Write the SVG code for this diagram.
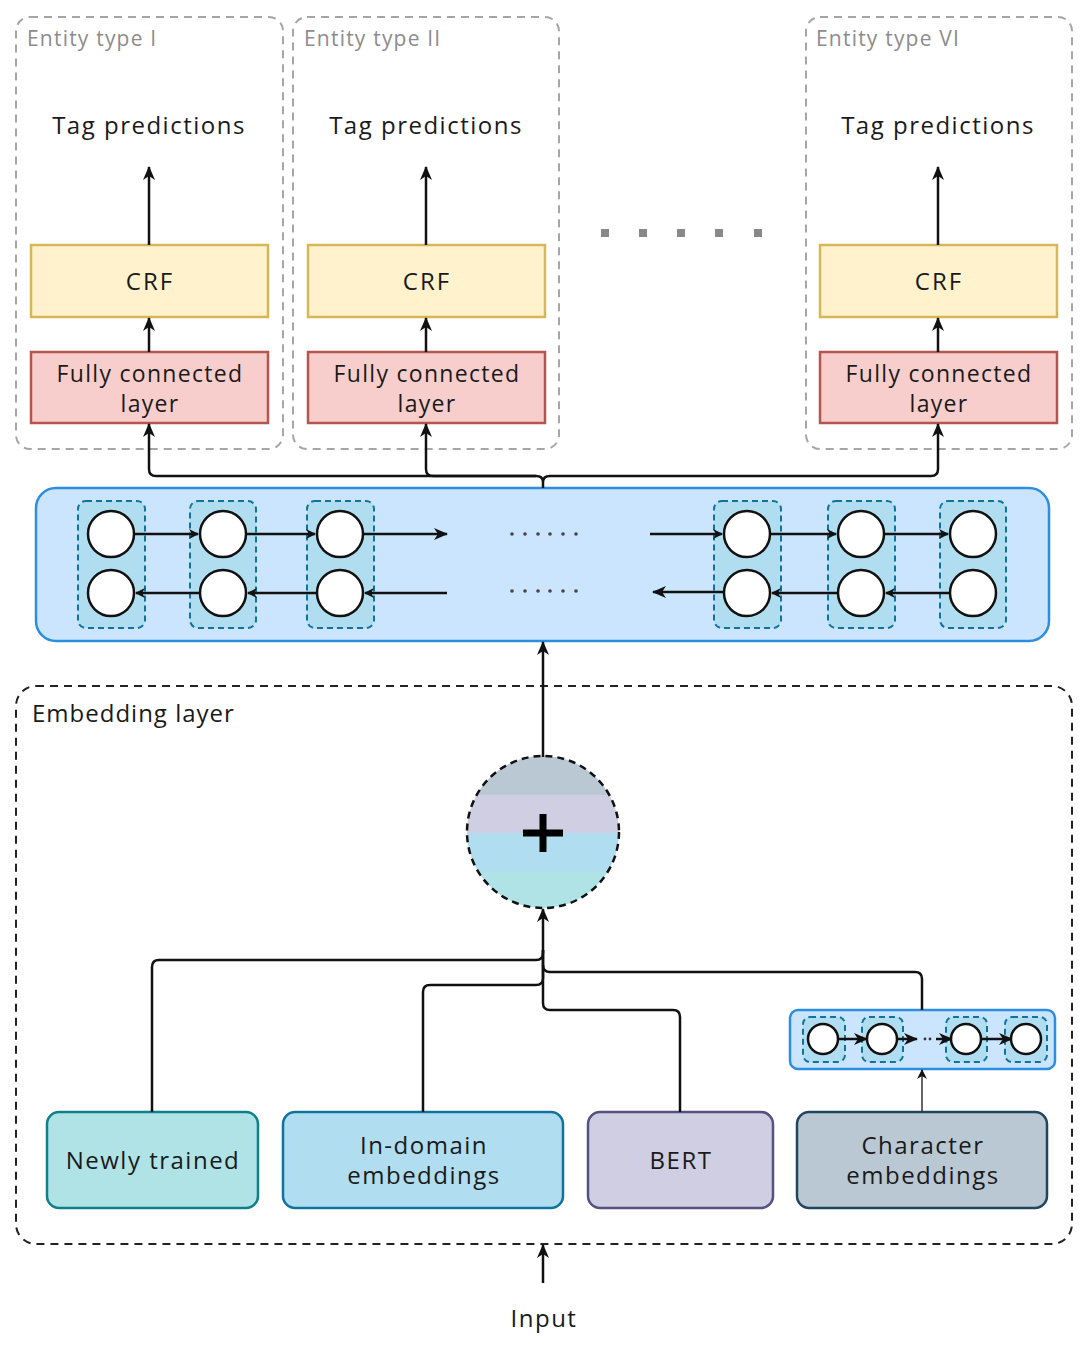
<svg xmlns="http://www.w3.org/2000/svg" width="1090" height="1346" viewBox="0 0 1090 1346">
<style>
text{font-family:"Open Sans","Noto Sans","Liberation Sans",sans-serif;fill:#1a1a1a}
.et{font-size:21px;fill:#8c8c8c;letter-spacing:1.2px}
.tp{font-size:24px;text-anchor:middle;letter-spacing:1.5px}
.lb{font-size:23px;text-anchor:middle;letter-spacing:1.3px}
.crft{font-size:24px;text-anchor:middle;letter-spacing:2px}
.grp{fill:none;stroke:#a6a6a6;stroke-width:2;stroke-dasharray:8 6}
.crf{fill:#fff2cc;stroke:#d6b656;stroke-width:2.5}
.fc{fill:#f8cecc;stroke:#b85450;stroke-width:2.5}
.cell{fill:#b1ddf0;stroke:#10739e;stroke-width:2;stroke-dasharray:6 4}
.nd{fill:#fff;stroke:#111;stroke-width:2.5}
.ln{fill:none;stroke:#111;stroke-width:2.5}
.dot{fill:#444}
</style>
<defs>
<marker id="ah" markerWidth="10" markerHeight="10" refX="9" refY="5" orient="auto" markerUnits="userSpaceOnUse" viewBox="0 0 10 10">
<path d="M0,0 L10,5 L0,10 L3,5 Z" fill="#111"/>
</marker>
<marker id="ahs" markerWidth="14" markerHeight="14" refX="13" refY="7" orient="auto" markerUnits="userSpaceOnUse" viewBox="0 0 14 14">
<path d="M0,1 L14,7 L0,13 L4,7 Z" fill="#111"/>
</marker>
<clipPath id="cc"><circle cx="543" cy="832" r="76"/></clipPath>
</defs>

<!-- Entity type groups -->
<g id="entity1">
<rect class="grp" x="16" y="17" width="267" height="432" rx="14"/>
<text class="et" x="27" y="46">Entity type I</text>
<text class="tp" x="149" y="134">Tag predictions</text>
</g>
<g id="entity2">
<rect class="grp" x="293" y="17" width="266" height="432" rx="14"/>
<text class="et" x="304" y="46">Entity type II</text>
<text class="tp" x="426" y="134">Tag predictions</text>
</g>
<g id="entity6">
<rect class="grp" x="806" y="17" width="266" height="432" rx="14"/>
<text class="et" x="816" y="46">Entity type VI</text>
<text class="tp" x="938" y="134">Tag predictions</text>
</g>

<g id="crf1"><rect class="crf" x="31" y="245" width="237" height="72"/><text class="crft" x="150" y="290">CRF</text></g>
<g id="crf2"><rect class="crf" x="308" y="245" width="237" height="72"/><text class="crft" x="427" y="290">CRF</text></g>
<g id="crf6"><rect class="crf" x="820" y="245" width="237" height="72"/><text class="crft" x="939" y="290">CRF</text></g>

<g id="fc1"><rect class="fc" x="31" y="352" width="237" height="71"/><text class="lb" x="150" y="382">Fully connected</text><text class="lb" x="150" y="412">layer</text></g>
<g id="fc2"><rect class="fc" x="308" y="352" width="237" height="71"/><text class="lb" x="427" y="382">Fully connected</text><text class="lb" x="427" y="412">layer</text></g>
<g id="fc6"><rect class="fc" x="820" y="352" width="237" height="71"/><text class="lb" x="939" y="382">Fully connected</text><text class="lb" x="939" y="412">layer</text></g>

<g id="ellipsis-top" fill="#888">
<rect x="601" y="229" width="8" height="8"/><rect x="639" y="229" width="8" height="8"/><rect x="677" y="229" width="8" height="8"/><rect x="715" y="229" width="8" height="8"/><rect x="754" y="229" width="8" height="8"/>
</g>

<!-- BiLSTM -->
<g id="bilstm">
<rect x="36" y="488" width="1013" height="153" rx="20" fill="#cce5ff" stroke="#2d8ee0" stroke-width="2.5"/>
<rect class="cell" x="78" y="501" width="67" height="127" rx="8"/>
<rect class="cell" x="190" y="501" width="66" height="127" rx="8"/>
<rect class="cell" x="307" y="501" width="67" height="127" rx="8"/>
<rect class="cell" x="714" y="501" width="67" height="127" rx="8"/>
<rect class="cell" x="828" y="501" width="67" height="127" rx="8"/>
<rect class="cell" x="940" y="501" width="66" height="127" rx="8"/>
<path class="ln" marker-end="url(#ah)" d="M134,534 H198"/>
<path class="ln" marker-end="url(#ah)" d="M246,534 H315"/>
<path class="ln" marker-end="url(#ahs)" d="M363,534 H447"/>
<path class="ln" marker-end="url(#ah)" d="M200,593 H136"/>
<path class="ln" marker-end="url(#ah)" d="M317,593 H248"/>
<path class="ln" marker-end="url(#ah)" d="M447,593 H365"/>
<path class="ln" marker-end="url(#ah)" d="M650,534 H722"/>
<path class="ln" marker-end="url(#ah)" d="M770,534 H836"/>
<path class="ln" marker-end="url(#ah)" d="M884,534 H948"/>
<path class="ln" marker-end="url(#ah)" d="M950,593 H886"/>
<path class="ln" marker-end="url(#ah)" d="M838,593 H772"/>
<path class="ln" marker-end="url(#ahs)" d="M724,592 H653"/>
<circle class="nd" cx="111" cy="534" r="23"/><circle class="nd" cx="111" cy="593" r="23"/>
<circle class="nd" cx="223" cy="534" r="23"/><circle class="nd" cx="223" cy="593" r="23"/>
<circle class="nd" cx="340" cy="534" r="23"/><circle class="nd" cx="340" cy="593" r="23"/>
<circle class="nd" cx="747" cy="534" r="23"/><circle class="nd" cx="747" cy="593" r="23"/>
<circle class="nd" cx="861" cy="534" r="23"/><circle class="nd" cx="861" cy="593" r="23"/>
<circle class="nd" cx="973" cy="534" r="23"/><circle class="nd" cx="973" cy="593" r="23"/>
<g class="dot">
<circle cx="512" cy="534" r="1.8"/><circle cx="525" cy="534" r="1.8"/><circle cx="538" cy="534" r="1.8"/><circle cx="550" cy="534" r="1.8"/><circle cx="563" cy="534" r="1.8"/><circle cx="576" cy="534" r="1.8"/>
<circle cx="512" cy="591" r="1.8"/><circle cx="525" cy="591" r="1.8"/><circle cx="538" cy="591" r="1.8"/><circle cx="550" cy="591" r="1.8"/><circle cx="563" cy="591" r="1.8"/><circle cx="576" cy="591" r="1.8"/>
</g>
</g>

<!-- Embedding layer -->
<g id="embedding-layer">
<rect x="16" y="686" width="1056" height="558" rx="20" fill="none" stroke="#222" stroke-width="2" stroke-dasharray="8 6"/>
<text x="32" y="722" style="font-size:24px;letter-spacing:1px">Embedding layer</text>
</g>

<g id="sum">
<g clip-path="url(#cc)">
<rect x="467" y="756" width="152" height="39" fill="#bac8d3"/>
<rect x="467" y="795" width="152" height="38" fill="#d0cee2"/>
<rect x="467" y="833" width="152" height="39" fill="#b1ddf0"/>
<rect x="467" y="872" width="152" height="37" fill="#b0e3e6"/>
</g>
<circle cx="543" cy="832" r="76" fill="none" stroke="#111" stroke-width="2.5" stroke-dasharray="7 5"/>
<path d="M543,814 V852 M523,833 H563" stroke="#000" stroke-width="7" fill="none"/>
</g>

<g id="char-lstm">
<rect x="790" y="1010" width="265" height="59" rx="8" fill="#cce5ff" stroke="#2d8ee0" stroke-width="2.5"/>
<rect class="cell" x="803" y="1017" width="42" height="45" rx="7"/>
<rect class="cell" x="862" y="1017" width="41" height="45" rx="7"/>
<rect class="cell" x="946" y="1017" width="41" height="45" rx="7"/>
<rect class="cell" x="1005" y="1017" width="42" height="45" rx="7"/>
<path class="ln" marker-end="url(#ahs)" d="M838,1039 H867"/>
<path class="ln" marker-end="url(#ahs)" d="M897,1039 H917"/>
<path class="ln" marker-end="url(#ahs)" d="M936,1039 H952"/>
<path class="ln" marker-end="url(#ahs)" d="M981,1039 H1012"/>
<circle cx="925" cy="1039" r="1.4" fill="#333"/><circle cx="930" cy="1039" r="1.4" fill="#333"/>
<circle class="nd" cx="823" cy="1039" r="15"/>
<circle class="nd" cx="882" cy="1039" r="15"/>
<circle class="nd" cx="966" cy="1039" r="15"/>
<circle class="nd" cx="1026" cy="1039" r="15"/>
</g>

<g id="newly"><rect x="47" y="1112" width="211" height="96" rx="12" fill="#b0e3e6" stroke="#0e8088" stroke-width="2.5"/><text class="tp" x="153" y="1169">Newly trained</text></g>
<g id="indomain"><rect x="283" y="1112" width="280" height="96" rx="12" fill="#b1ddf0" stroke="#10739e" stroke-width="2.5"/><text class="tp" x="424" y="1154">In-domain</text><text class="tp" x="424" y="1184">embeddings</text></g>
<g id="bert"><rect x="588" y="1112" width="185" height="96" rx="12" fill="#d0cee2" stroke="#56517e" stroke-width="2.5"/><text class="tp" x="681" y="1169">BERT</text></g>
<g id="charemb"><rect x="797" y="1112" width="250" height="96" rx="12" fill="#bac8d3" stroke="#23445d" stroke-width="2.5"/><text class="tp" x="923" y="1154">Character</text><text class="tp" x="923" y="1184">embeddings</text></g>

<g id="input-label"><text class="tp" x="544" y="1327">Input</text></g>

<!-- connectors -->
<g id="connectors">
<path class="ln" marker-end="url(#ahs)" d="M149,245 V167"/>
<path class="ln" marker-end="url(#ahs)" d="M426,245 V167"/>
<path class="ln" marker-end="url(#ahs)" d="M938,245 V167"/>
<path class="ln" marker-end="url(#ahs)" d="M149,352 V318"/>
<path class="ln" marker-end="url(#ahs)" d="M426,352 V318"/>
<path class="ln" marker-end="url(#ahs)" d="M938,352 V318"/>
<path class="ln" marker-end="url(#ahs)" d="M536,476 H156 Q149,476 149,469 V424"/>
<path class="ln" marker-end="url(#ahs)" d="M536,476 H433 Q426,476 426,469 V424"/>
<path class="ln" marker-end="url(#ahs)" d="M550,476 H931 Q938,476 938,469 V424"/>
<path class="ln" d="M536,476 Q543,476 543,482 V488 M550,476 Q543,476 543,482"/>
<path class="ln" marker-end="url(#ahs)" d="M543,757 V642"/>
<path class="ln" marker-end="url(#ahs)" d="M152,1112 V967 Q152,960 159,960 H536 Q543,960 543,953 V909"/>
<path class="ln" d="M423,1112 V992 Q423,985 430,985 H536 Q543,985 543,978 V950"/>
<path class="ln" d="M680,1112 V1017 Q680,1010 673,1010 H550 Q543,1010 543,1003 V950"/>
<path class="ln" d="M922,1010 V979 Q922,972 915,972 H550 Q543,972 543,965"/>
<path fill="none" stroke="#333" stroke-width="1.5" marker-end="url(#ah)" d="M922,1112 V1070"/>
<path class="ln" marker-end="url(#ahs)" d="M543,1283 V1245"/>
</g>
</svg>
